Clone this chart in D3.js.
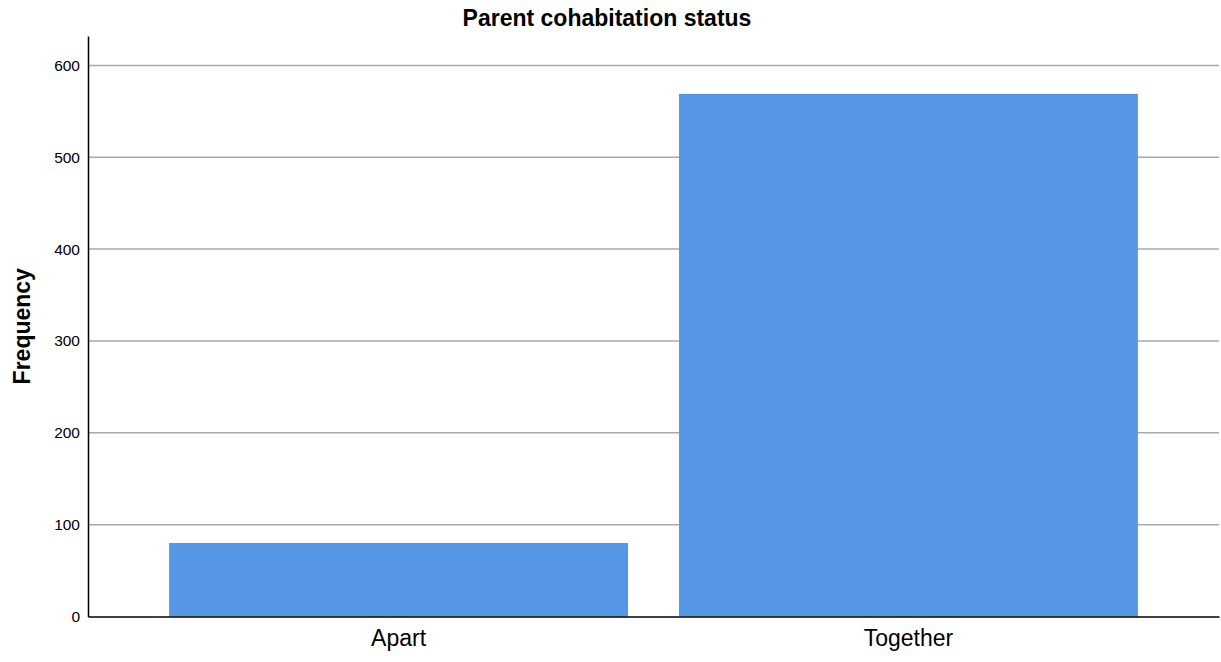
<!DOCTYPE html>
<html>
<head>
<meta charset="utf-8">
<script src="https://cdn.jsdelivr.net/npm/d3@7"></script>
<style>
  body { margin: 0; background: #fff; }
  svg { display: block; font-family: "Liberation Sans", Arial, sans-serif; }
</style>
</head>
<body>
<svg id="chart" width="1221" height="662"></svg>
<script>
// Data
const categories = ["Apart", "Together"];
const counts = [80, 569];
const yTicks = [0, 100, 200, 300, 400, 500, 600];

const width = 1221, height = 662;
const margin = { top: 36, right: 2, bottom: 45.5, left: 88 };

const svg = d3.select("#chart");

const x = d3.scaleBand()
  .domain(categories)
  .range([margin.left, width - margin.right])
  .paddingInner(0.1)
  .paddingOuter(0.159);

const y = d3.scaleLinear()
  .domain([0, 632])
  .range([height - margin.bottom, margin.top]);

// Gridlines
svg.append("g")
  .selectAll("line")
  .data(yTicks.filter(d => d > 0))
  .join("line")
  .attr("x1", margin.left)
  .attr("x2", width - margin.right)
  .attr("y1", d => y(d))
  .attr("y2", d => y(d))
  .attr("stroke", "#aaaaaa")
  .attr("stroke-width", 1.5);

// Bars
svg.append("g")
  .selectAll("rect")
  .data(categories)
  .join("rect")
  .attr("x", d => x(d))
  .attr("width", x.bandwidth())
  .attr("y", (d, i) => y(counts[i]))
  .attr("height", (d, i) => y(0) - y(counts[i]))
  .attr("fill", "#5597e5");

// Y axis
const yAxis = svg.append("g")
  .attr("transform", `translate(${margin.left},0)`)
  .call(d3.axisLeft(y).tickValues(yTicks).tickSize(0).tickPadding(8));
yAxis.select(".domain").attr("stroke", "#000").attr("stroke-width", 1.5);
yAxis.selectAll("text").attr("font-size", 15.5).attr("fill", "#000")
  .attr("font-family", "'Liberation Sans', Arial, sans-serif");

// X axis
const xAxis = svg.append("g")
  .attr("transform", `translate(0,${y(0)})`)
  .call(d3.axisBottom(x).tickSize(0).tickPadding(13));
xAxis.select(".domain").attr("stroke", "#000").attr("stroke-width", 1.5);
xAxis.selectAll("text").attr("font-size", 23).attr("fill", "#000")
  .attr("font-family", "'Liberation Sans', Arial, sans-serif");

// Title
svg.append("text")
  .attr("x", 607)
  .attr("y", 26)
  .attr("text-anchor", "middle")
  .attr("font-size", 23)
  .attr("font-weight", "bold")
  .text("Parent cohabitation status");

// Y label
svg.append("text")
  .attr("transform", `translate(30,${(margin.top + y(0)) / 2}) rotate(-90)`)
  .attr("text-anchor", "middle")
  .attr("font-size", 23)
  .attr("font-weight", "bold")
  .text("Frequency");
</script>
</body>
</html>
